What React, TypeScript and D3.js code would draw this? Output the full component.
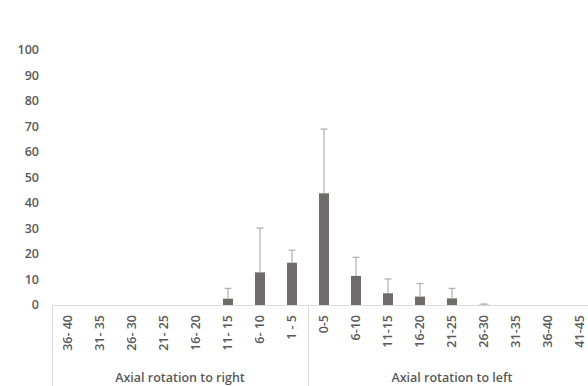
import React from "react";
import * as d3 from "d3";

const categories = ["36- 40","31- 35","26- 30","21- 25","16- 20","11- 15","6- 10","1 - 5","0-5","6-10","11-15","16-20","21-25","26-30","31-35","36-40","41-45"];
const values = [0,0,0,0,0,2.5,12.8,16.6,43.8,11.4,4.6,3.3,2.6,0.1,0,0,0];
const errors = [0,0,0,0,0,4.0,17.4,4.9,25.2,7.3,5.6,5.1,3.9,0.3,0,0,0];
const groups = [
  { label: "Axial rotation to right", from: 0, to: 7 },
  { label: "Axial rotation to left", from: 8, to: 16 },
];
const yTicks = [0,10,20,30,40,50,60,70,80,90,100];

export default function App() {
  const W = 588, H = 386;
  const x0 = 52, bw = 32;
  const x = d3.scaleBand<string>().domain(categories.map((c, i) => i + "")).range([x0, x0 + bw * categories.length]).paddingInner(0).paddingOuter(0);
  const y = d3.scaleLinear().domain([0, 100]).range([305, 50]);
  const barW = 10;
  const textColor = "#595959";
  const font = "'Open Sans', 'Liberation Sans', sans-serif";
  const fs = 12.5;
  return (
    <svg width={W} height={H} style={{ position: "absolute", left: 0, top: 0, background: "#fff" }}>
      <rect width={W} height={H} fill="#fff" />
      {yTicks.map((t) => (
        <text key={t} x={39} y={y(t)} dy="0.35em" textAnchor="end" fontFamily={font} fontSize={fs} fontWeight={600} fill={textColor}>{t}</text>
      ))}
      {categories.map((c, i) => {
        const cx = (x(i + "") as number) + bw / 2;
        const v = values[i];
        const e = errors[i];
        return (
          <g key={i}>
            {v > 0 && <rect x={cx - barW / 2} y={y(v)} width={barW} height={y(0) - y(v)} fill="#6f6b6b" />}
            {(v > 0 || e > 0) && (
              <g stroke="#b3b3b3" strokeWidth={1.3}>
                <line x1={cx} x2={cx} y1={y(v)} y2={y(v + e)} />
                <line x1={cx - 3.5} x2={cx + 3.5} y1={y(v + e)} y2={y(v + e)} />
              </g>
            )}
            <text transform={`translate(${cx},315) rotate(-90)`} dy="0.35em" textAnchor="end" fontFamily={font} fontSize={fs} fontWeight={600} fill={textColor}>{c}</text>
          </g>
        );
      })}
      <line x1={x0} x2={W} y1={305.5} y2={305.5} stroke="#d9d9d9" strokeWidth={1} />
      {[52.5, 308.5].map((xx) => (
        <line key={xx} x1={xx} x2={xx} y1={305.5} y2={H} stroke="#d9d9d9" strokeWidth={1} />
      ))}
      {groups.map((g) => {
        const a = x0 + bw * g.from;
        const b = x0 + bw * (g.to + 1);
        return (
          <text key={g.label} x={(a + b) / 2} y={378} dy="0.35em" textAnchor="middle" fontFamily={font} fontSize={fs} fontWeight={600} fill={textColor}>{g.label}</text>
        );
      })}
    </svg>
  );
}
